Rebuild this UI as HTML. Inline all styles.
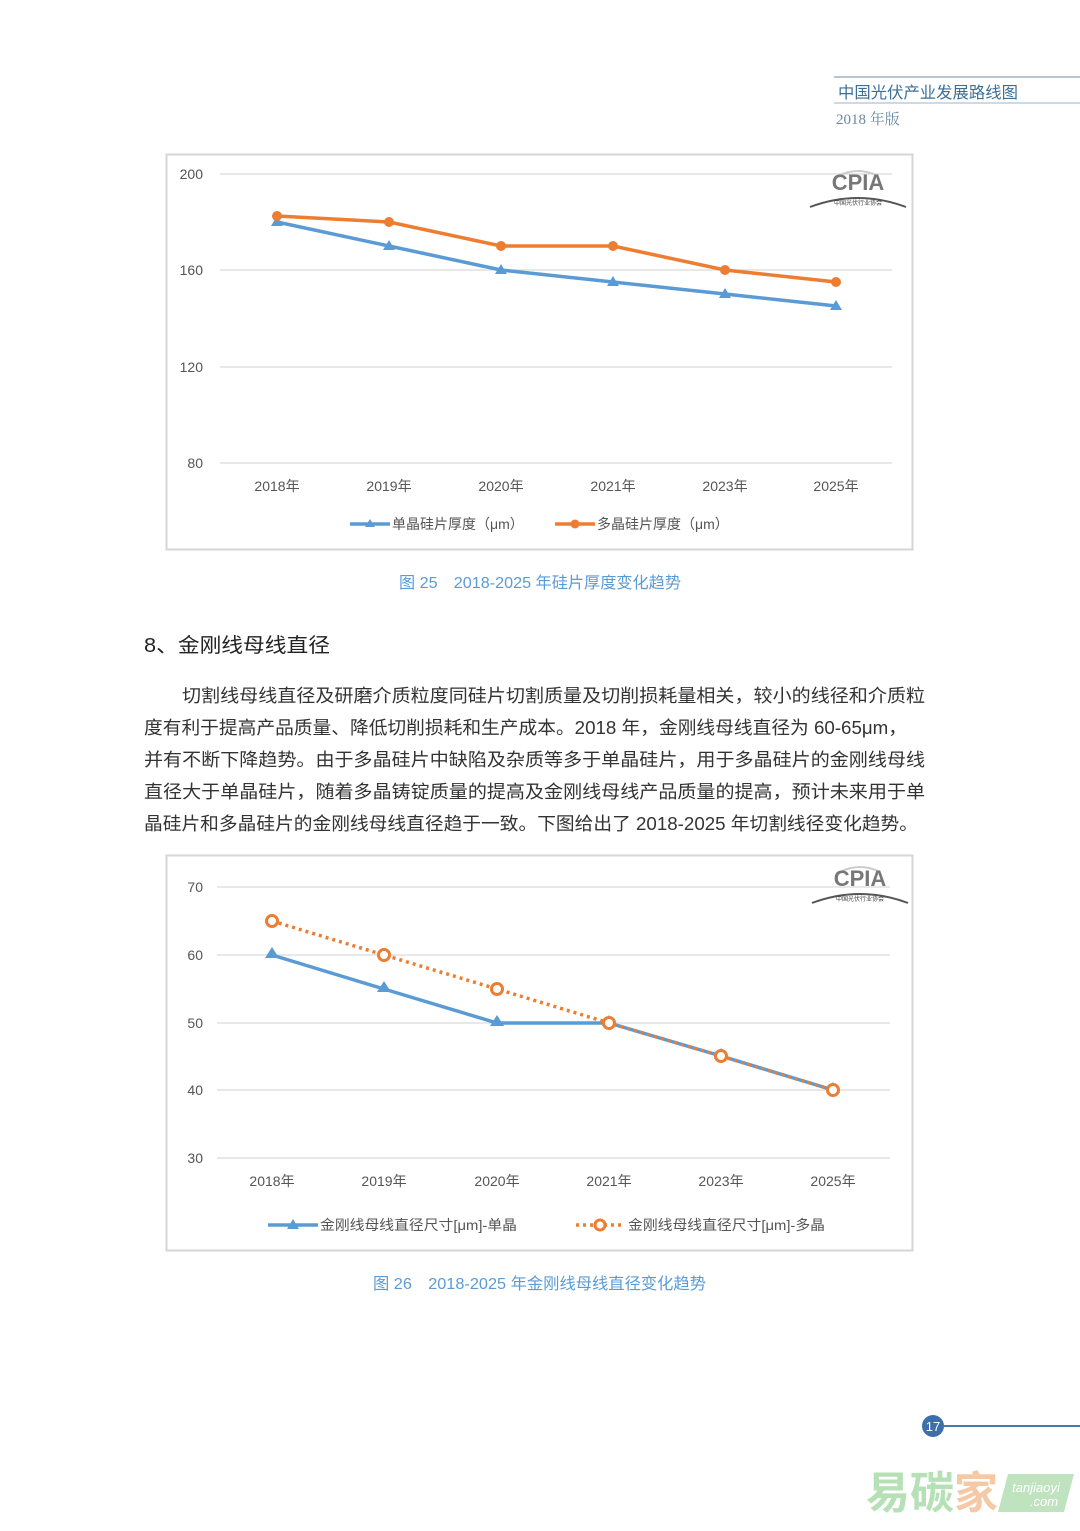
<!DOCTYPE html>
<html><head><meta charset="utf-8"><style>
body{margin:0;background:#fff;width:1080px;height:1526px;overflow:hidden;font-family:"Liberation Sans","Noto Sans CJK SC",sans-serif;}
</style></head><body>
<svg width="1080" height="1526" xmlns="http://www.w3.org/2000/svg" font-family="Liberation Sans, Noto Sans CJK SC, sans-serif">
<!-- header -->
<line x1="834" y1="77" x2="1080" y2="77" stroke="#9db3c4" stroke-width="1.5"/>
<line x1="834" y1="103" x2="1080" y2="103" stroke="#9db3c4" stroke-width="1"/>
<text x="838" y="98" font-size="16" fill="#3a6f9a" textLength="180" lengthAdjust="spacingAndGlyphs">中国光伏产业发展路线图</text>
<text x="836" y="124" font-size="15" fill="#6a8aa5" font-family="Liberation Serif, Noto Serif CJK SC, serif">2018 年版</text>

<!-- chart 1 -->
<rect x="166.5" y="154.5" width="746" height="395" fill="#fff" stroke="#d6d6d6" stroke-width="2"/>
<g stroke="#d9d9d9" stroke-width="1.2">
<line x1="220" y1="174" x2="892" y2="174"/><line x1="220" y1="270" x2="892" y2="270"/>
<line x1="220" y1="367" x2="892" y2="367"/><line x1="220" y1="463" x2="892" y2="463"/></g>
<g font-size="14" fill="#555" text-anchor="end">
<text x="203" y="179">200</text><text x="203" y="275">160</text><text x="203" y="372">120</text><text x="203" y="468">80</text></g>
<g font-size="14" fill="#555" text-anchor="middle">
<text x="277" y="491">2018年</text><text x="389" y="491">2019年</text><text x="501" y="491">2020年</text><text x="613" y="491">2021年</text><text x="725" y="491">2023年</text><text x="836" y="491">2025年</text></g>
<polyline points="277,222 389,246 501,270 613,282 725,294 836,306" fill="none" stroke="#5b9bd5" stroke-width="3.5"/>
<g fill="#5b9bd5"><path d="M277,216l6,10h-12z"/><path d="M389,240l6,10h-12z"/><path d="M501,264l6,10h-12z"/><path d="M613,276l6,10h-12z"/><path d="M725,288l6,10h-12z"/><path d="M836,300l6,10h-12z"/></g>
<polyline points="277,216 389,222 501,246 613,246 725,270 836,282" fill="none" stroke="#ed7d31" stroke-width="3.5"/>
<g fill="#ed7d31"><circle cx="277" cy="216" r="5"/><circle cx="389" cy="222" r="5"/><circle cx="501" cy="246" r="5"/><circle cx="613" cy="246" r="5"/><circle cx="725" cy="270" r="5"/><circle cx="836" cy="282" r="5"/></g>
<line x1="350" y1="524" x2="390" y2="524" stroke="#5b9bd5" stroke-width="3.5"/><path d="M370,519l5,8h-10z" fill="#5b9bd5"/>
<text x="392" y="529" font-size="14" fill="#555">单晶硅片厚度（μm）</text>
<line x1="555" y1="524" x2="595" y2="524" stroke="#ed7d31" stroke-width="3.5"/><circle cx="575" cy="524" r="4.5" fill="#ed7d31"/>
<text x="597" y="529" font-size="14" fill="#555">多晶硅片厚度（μm）</text>
<g transform="translate(858,190)"><path d="M-20,-14 q20,-10 40,0" fill="none" stroke="#ccc" stroke-width="2"/>
<text x="0" y="0" font-size="22" font-weight="bold" fill="#777" text-anchor="middle">CPIA</text>
<path d="M-48,17 q48,-18 96,0" fill="none" stroke="#555" stroke-width="2"/>
<text x="0" y="15" font-size="6" fill="#444" text-anchor="middle">中国光伏行业协会</text></g>
<text x="399" y="588" font-size="16" fill="#5b9bd5" textLength="282" lengthAdjust="spacingAndGlyphs">图 25　2018-2025 年硅片厚度变化趋势</text>

<!-- section -->
<text x="144" y="652" font-size="20" fill="#222" textLength="186" lengthAdjust="spacingAndGlyphs">8、金刚线母线直径</text>
<g font-size="18" fill="#333" lengthAdjust="spacingAndGlyphs">
<text x="182" y="702" textLength="743" lengthAdjust="spacingAndGlyphs">切割线母线直径及研磨介质粒度同硅片切割质量及切削损耗量相关，较小的线径和介质粒</text>
<text x="144" y="734" textLength="763" lengthAdjust="spacingAndGlyphs">度有利于提高产品质量、降低切削损耗和生产成本。2018 年，金刚线母线直径为 60-65μm，</text>
<text x="144" y="766" textLength="781" lengthAdjust="spacingAndGlyphs">并有不断下降趋势。由于多晶硅片中缺陷及杂质等多于单晶硅片，用于多晶硅片的金刚线母线</text>
<text x="144" y="798" textLength="781" lengthAdjust="spacingAndGlyphs">直径大于单晶硅片，随着多晶铸锭质量的提高及金刚线母线产品质量的提高，预计未来用于单</text>
<text x="144" y="830" textLength="774" lengthAdjust="spacingAndGlyphs">晶硅片和多晶硅片的金刚线母线直径趋于一致。下图给出了 2018-2025 年切割线径变化趋势。</text></g>

<!-- chart 2 -->
<rect x="166.5" y="855.5" width="746" height="395" fill="#fff" stroke="#d6d6d6" stroke-width="2"/>
<g stroke="#d9d9d9" stroke-width="1.2">
<line x1="217" y1="887" x2="890" y2="887"/><line x1="217" y1="955" x2="890" y2="955"/><line x1="217" y1="1023" x2="890" y2="1023"/>
<line x1="217" y1="1090" x2="890" y2="1090"/><line x1="217" y1="1158" x2="890" y2="1158"/></g>
<g font-size="14" fill="#555" text-anchor="end">
<text x="203" y="892">70</text><text x="203" y="960">60</text><text x="203" y="1028">50</text><text x="203" y="1095">40</text><text x="203" y="1163">30</text></g>
<g font-size="14" fill="#555" text-anchor="middle">
<text x="272" y="1186">2018年</text><text x="384" y="1186">2019年</text><text x="497" y="1186">2020年</text><text x="609" y="1186">2021年</text><text x="721" y="1186">2023年</text><text x="833" y="1186">2025年</text></g>
<polyline points="272,955 384,989 497,1023 609,1023 721,1056 833,1090" fill="none" stroke="#5b9bd5" stroke-width="3.5"/>
<g fill="#5b9bd5"><path d="M272,947l7,11h-14z"/><path d="M384,981l7,11h-14z"/><path d="M497,1015l7,11h-14z"/><path d="M609,1015l7,11h-14z"/><path d="M721,1048l7,11h-14z"/><path d="M833,1082l7,11h-14z"/></g>
<polyline points="272,921 384,955 497,989 609,1023 721,1056 833,1090" fill="none" stroke="#ed7d31" stroke-width="3.5" stroke-dasharray="3,4"/>
<g fill="#fff" stroke="#ed7d31" stroke-width="3"><circle cx="272" cy="921" r="5.5"/><circle cx="384" cy="955" r="5.5"/><circle cx="497" cy="989" r="5.5"/><circle cx="609" cy="1023" r="5.5"/><circle cx="721" cy="1056" r="5.5"/><circle cx="833" cy="1090" r="5.5"/></g>
<line x1="268" y1="1225" x2="318" y2="1225" stroke="#5b9bd5" stroke-width="3.5"/><path d="M293,1219l6,10h-12z" fill="#5b9bd5"/>
<text x="320" y="1230" font-size="14" fill="#555" textLength="197" lengthAdjust="spacingAndGlyphs">金刚线母线直径尺寸[μm]-单晶</text>
<line x1="576" y1="1225" x2="624" y2="1225" stroke="#ed7d31" stroke-width="3.5" stroke-dasharray="3,4"/><circle cx="600" cy="1225" r="5" fill="#fff" stroke="#ed7d31" stroke-width="3"/>
<text x="628" y="1230" font-size="14" fill="#555" textLength="197" lengthAdjust="spacingAndGlyphs">金刚线母线直径尺寸[μm]-多晶</text>
<g transform="translate(860,886)"><path d="M-20,-14 q20,-10 40,0" fill="none" stroke="#ccc" stroke-width="2"/>
<text x="0" y="0" font-size="22" font-weight="bold" fill="#777" text-anchor="middle">CPIA</text>
<path d="M-48,17 q48,-18 96,0" fill="none" stroke="#555" stroke-width="2"/>
<text x="0" y="15" font-size="6" fill="#444" text-anchor="middle">中国光伏行业协会</text></g>
<text x="373" y="1289" font-size="16" fill="#5b9bd5" textLength="333" lengthAdjust="spacingAndGlyphs">图 26　2018-2025 年金刚线母线直径变化趋势</text>

<!-- footer -->
<line x1="944" y1="1426" x2="1080" y2="1426" stroke="#4a7aa8" stroke-width="2"/>
<circle cx="933" cy="1426" r="11" fill="#3f6fa8"/>
<text x="933" y="1431" font-size="13" fill="#fff" text-anchor="middle">17</text>
<text x="866" y="1508" font-size="44" fill="#b6e0b6" font-weight="bold">易碳</text>
<text x="954" y="1508" font-size="44" fill="#f6c9a6" font-weight="bold">家</text>
<path d="M1008,1474 h66 l-10,38 h-66z" fill="#bfe3bf"/>
<text x="1036" y="1492" font-size="13" fill="#fff" text-anchor="middle" font-style="italic">tanjiaoyi</text>
<text x="1044" y="1506" font-size="13" fill="#fff" text-anchor="middle" font-style="italic">.com</text>
</svg>
</body></html>
